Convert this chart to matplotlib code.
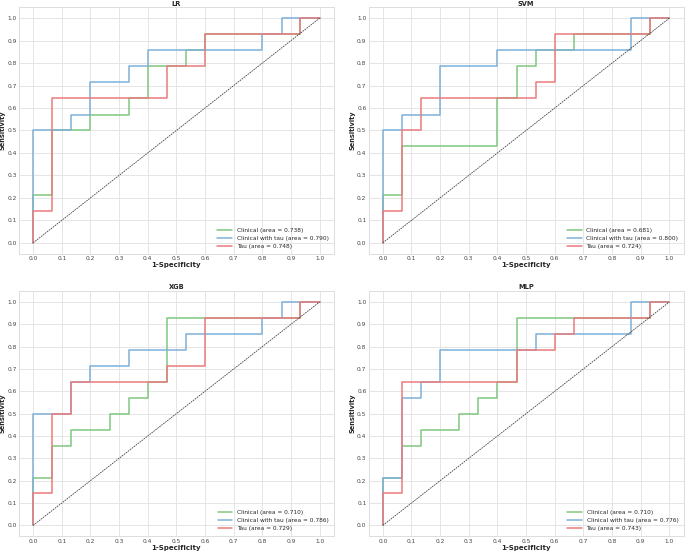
import matplotlib
matplotlib.use("Agg")
import matplotlib.pyplot as plt
import seaborn as sns

# ROC corner points (1-specificity, sensitivity)
models = ["LR", "SVM", "XGB", "MLP"]
labels = ["Clinical", "Clinical with tau", "Tau"]

lr_clin_fpr = [0, 0, 0.067, 0.067, 0.2, 0.2, 0.333, 0.333, 0.4, 0.4, 0.533, 0.533, 0.6, 0.6, 0.933, 0.933, 1.0]
lr_clin_tpr = [0, 0.214, 0.214, 0.5, 0.5, 0.571, 0.571, 0.643, 0.643, 0.786, 0.786, 0.857, 0.857, 0.929, 0.929, 1.0, 1.0]
lr_both_fpr = [0, 0, 0.133, 0.133, 0.2, 0.2, 0.333, 0.333, 0.4, 0.4, 0.8, 0.8, 0.867, 0.867, 1.0]
lr_both_tpr = [0, 0.5, 0.5, 0.571, 0.571, 0.714, 0.714, 0.786, 0.786, 0.857, 0.857, 0.929, 0.929, 1.0, 1.0]
lr_tau_fpr = [0, 0, 0.067, 0.067, 0.467, 0.467, 0.6, 0.6, 0.933, 0.933, 1.0]
lr_tau_tpr = [0, 0.143, 0.143, 0.643, 0.643, 0.786, 0.786, 0.929, 0.929, 1.0, 1.0]

svm_clin_fpr = [0, 0, 0.067, 0.067, 0.4, 0.4, 0.467, 0.467, 0.533, 0.533, 0.667, 0.667, 0.933, 0.933, 1.0]
svm_clin_tpr = [0, 0.214, 0.214, 0.429, 0.429, 0.643, 0.643, 0.786, 0.786, 0.857, 0.857, 0.929, 0.929, 1.0, 1.0]
svm_both_fpr = [0, 0, 0.067, 0.067, 0.2, 0.2, 0.4, 0.4, 0.867, 0.867, 1.0]
svm_both_tpr = [0, 0.5, 0.5, 0.571, 0.571, 0.786, 0.786, 0.857, 0.857, 1.0, 1.0]
svm_tau_fpr = [0, 0, 0.067, 0.067, 0.133, 0.133, 0.533, 0.533, 0.6, 0.6, 0.933, 0.933, 1.0]
svm_tau_tpr = [0, 0.143, 0.143, 0.5, 0.5, 0.643, 0.643, 0.714, 0.714, 0.929, 0.929, 1.0, 1.0]

xgb_clin_fpr = [0, 0, 0.067, 0.067, 0.133, 0.133, 0.267, 0.267, 0.333, 0.333, 0.4, 0.4, 0.467, 0.467, 0.933, 0.933, 1.0]
xgb_clin_tpr = [0, 0.214, 0.214, 0.357, 0.357, 0.429, 0.429, 0.5, 0.5, 0.571, 0.571, 0.643, 0.643, 0.929, 0.929, 1.0, 1.0]
xgb_both_fpr = [0, 0, 0.133, 0.133, 0.2, 0.2, 0.333, 0.333, 0.533, 0.533, 0.8, 0.8, 0.867, 0.867, 1.0]
xgb_both_tpr = [0, 0.5, 0.5, 0.643, 0.643, 0.714, 0.714, 0.786, 0.786, 0.857, 0.857, 0.929, 0.929, 1.0, 1.0]
xgb_tau_fpr = [0, 0, 0.067, 0.067, 0.133, 0.133, 0.467, 0.467, 0.6, 0.6, 0.933, 0.933, 1.0]
xgb_tau_tpr = [0, 0.143, 0.143, 0.5, 0.5, 0.643, 0.643, 0.714, 0.714, 0.929, 0.929, 1.0, 1.0]

mlp_clin_fpr = [0, 0, 0.067, 0.067, 0.133, 0.133, 0.267, 0.267, 0.333, 0.333, 0.4, 0.4, 0.467, 0.467, 0.933, 0.933, 1.0]
mlp_clin_tpr = [0, 0.214, 0.214, 0.357, 0.357, 0.429, 0.429, 0.5, 0.5, 0.571, 0.571, 0.643, 0.643, 0.929, 0.929, 1.0, 1.0]
mlp_both_fpr = [0, 0, 0.067, 0.067, 0.133, 0.133, 0.2, 0.2, 0.533, 0.533, 0.867, 0.867, 1.0]
mlp_both_tpr = [0, 0.214, 0.214, 0.571, 0.571, 0.643, 0.643, 0.786, 0.786, 0.857, 0.857, 1.0, 1.0]
mlp_tau_fpr = [0, 0, 0.067, 0.067, 0.467, 0.467, 0.6, 0.6, 0.667, 0.667, 0.933, 0.933, 1.0]
mlp_tau_tpr = [0, 0.143, 0.143, 0.643, 0.643, 0.786, 0.786, 0.857, 0.857, 0.929, 0.929, 1.0, 1.0]

auc = {
    "LR": [0.738, 0.790, 0.748],
    "SVM": [0.681, 0.800, 0.724],
    "XGB": [0.710, 0.786, 0.729],
    "MLP": [0.710, 0.776, 0.743],
}

curves = {
    "LR": [(lr_clin_fpr, lr_clin_tpr), (lr_both_fpr, lr_both_tpr), (lr_tau_fpr, lr_tau_tpr)],
    "SVM": [(svm_clin_fpr, svm_clin_tpr), (svm_both_fpr, svm_both_tpr), (svm_tau_fpr, svm_tau_tpr)],
    "XGB": [(xgb_clin_fpr, xgb_clin_tpr), (xgb_both_fpr, xgb_both_tpr), (xgb_tau_fpr, xgb_tau_tpr)],
    "MLP": [(mlp_clin_fpr, mlp_clin_tpr), (mlp_both_fpr, mlp_both_tpr), (mlp_tau_fpr, mlp_tau_tpr)],
}

sns.set_style("whitegrid")
plt.rcParams['font.family'] = ['DejaVu Sans']

# light, opaque versions of the tab palette
colors = ['#80c880', '#7eb0d8', '#eb7b7c']
ticks = [i / 10 for i in range(11)]

fig = plt.figure(figsize=(6.85, 5.54), dpi=100)
boxes = [
    [0.0275, 0.5415, 0.460, 0.446],
    [0.538, 0.5415, 0.460, 0.446],
    [0.0275, 0.0316, 0.460, 0.4435],
    [0.538, 0.0316, 0.460, 0.4435],
]

for name, box in zip(models, boxes):
    ax = fig.add_axes(box)
    for (fpr, tpr), lab, c, a in zip(curves[name], labels, colors, auc[name]):
        ax.plot(fpr, tpr, color=c, lw=1.1, label=f'{lab} (area = {a:.3f})')
    ax.plot([0, 1], [0, 1], color='#444444', ls=(0, (2, 1)), lw=0.6)
    ax.set_xlim(-0.05, 1.05)
    ax.set_ylim(-0.05, 1.05)
    ax.set_xticks(ticks)
    ax.set_yticks(ticks)
    ax.tick_params(labelsize=4.2, pad=1.5, length=0, labelcolor='#444444')
    ax.set_title(name, fontsize=4.8, fontweight='bold', pad=1)
    ax.set_xlabel('1-Specificity', fontsize=5, fontweight='bold', labelpad=1)
    ax.set_ylabel('Sensitivity', fontsize=4.8, fontweight='bold', labelpad=1)
    ax.grid(color='#e5e5e5', lw=0.7)
    for s in ax.spines.values():
        s.set_color('#dddddd')
        s.set_linewidth(0.7)
    ax.legend(loc='lower right', fontsize=4.2, frameon=False, handlelength=2.5)

plt.savefig('out.png', dpi=100)
